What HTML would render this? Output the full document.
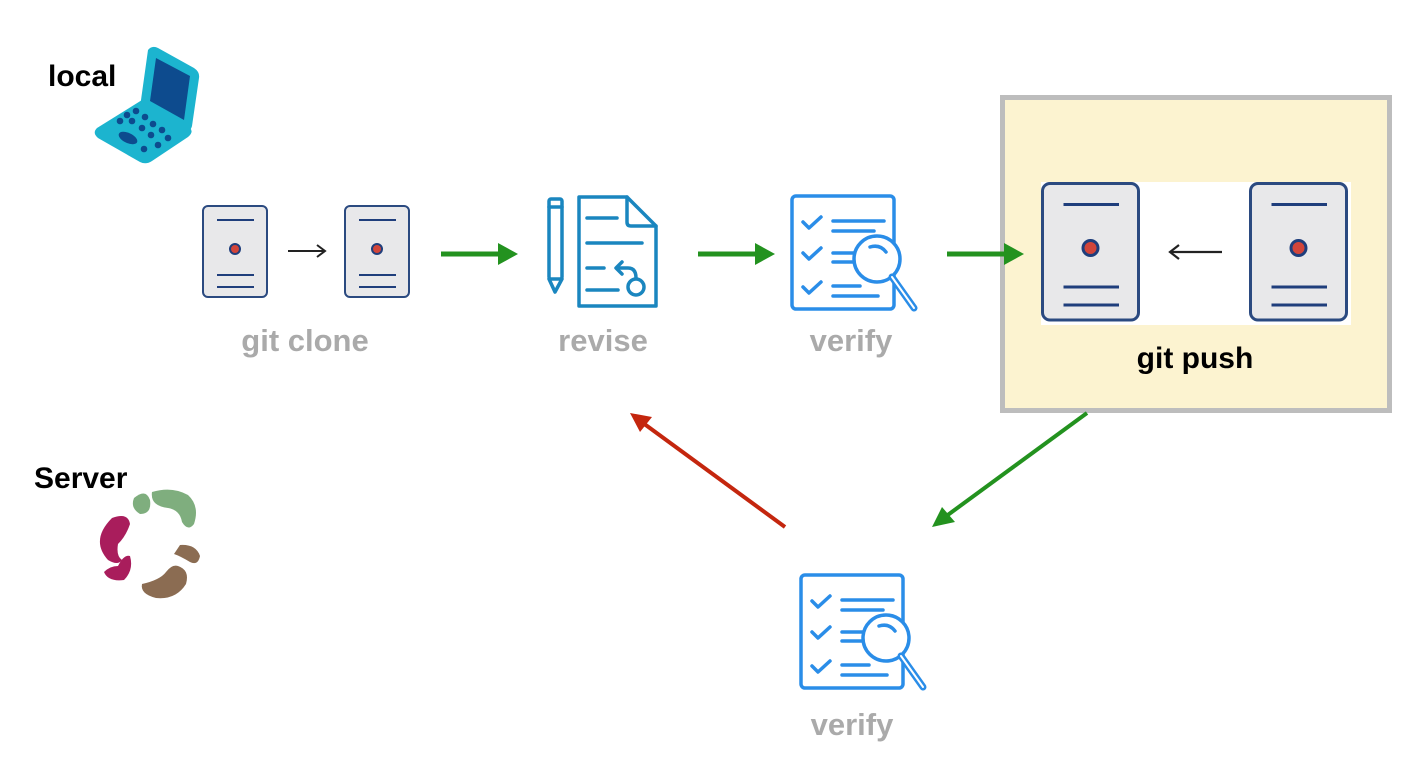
<!DOCTYPE html>
<html><head><meta charset="utf-8"><style>
html,body{margin:0;padding:0;background:#fff;}
svg{display:block;font-family:"Liberation Sans",sans-serif;}
.lbl{font-weight:bold;font-size:31px;fill:#aaaaaa;text-anchor:middle;}
</style></head><body>
<svg width="1414" height="772" viewBox="0 0 1414 772" xmlns="http://www.w3.org/2000/svg">
<defs>
<g id="srv">
<rect x="1" y="1" width="64" height="91" rx="5" fill="#e8e8ea" stroke="#2b4a80" stroke-width="2"/>
<line x1="15" y1="15" x2="52" y2="15" stroke="#1f3e7c" stroke-width="2"/>
<circle cx="33" cy="44" r="5" fill="#d2453a" stroke="#1f3e7c" stroke-width="2"/>
<line x1="15" y1="70" x2="52" y2="70" stroke="#1f3e7c" stroke-width="2"/>
<line x1="15" y1="82" x2="52" y2="82" stroke="#1f3e7c" stroke-width="2"/>
</g>
<g id="ver" fill="none" stroke="#2a8de8" stroke-width="3.5" stroke-linecap="round" stroke-linejoin="round">
<rect x="2" y="1" width="102" height="113" rx="4"/>
<polyline points="13,27 19,33 31,22"/>
<polyline points="13,58 19,64 31,53"/>
<polyline points="13,92 19,98 31,87"/>
<line x1="43" y1="26" x2="94" y2="26"/><line x1="43" y1="36" x2="84" y2="36"/>
<line x1="43" y1="58" x2="66" y2="58"/><line x1="43" y1="67" x2="64" y2="67"/>
<line x1="43" y1="91" x2="70" y2="91"/><line x1="43" y1="101" x2="88" y2="101"/>
<circle cx="87" cy="64" r="23" fill="#fff"/>
<path d="M80 52 Q90 49 96 57"/>
<line x1="102" y1="82" x2="124" y2="113" stroke-width="7"/>
<line x1="102" y1="82" x2="124" y2="113" stroke="#fff" stroke-width="2"/>
</g>
</defs>

<!-- local -->
<text x="48" y="86" font-size="30" font-weight="bold" fill="#000">local</text>
<g>
<path d="M97 128 L142 100 L190 128 Q194 132 188 137 L152 161 Q146 165 140 162 L98 138 Q92 133 97 128Z" fill="#1cb4cf"/>
<path d="M148 50 Q152 45 158 48 L194 68 Q200 72 199 78 L192 126 Q190 134 182 130 L146 110 Q140 106 141 100 Z" fill="#1cb4cf"/>
<path d="M156 58 L190 76 L184 120 L150 101 Z" fill="#0d4b8e"/>
<g fill="#0d4b8e"><circle cx="127" cy="115" r="3.3"/><circle cx="136" cy="111" r="3.3"/><circle cx="145" cy="117" r="3.3"/><circle cx="153" cy="124" r="3.3"/><circle cx="162" cy="130" r="3.3"/>
<circle cx="120" cy="121" r="3.3"/><circle cx="132" cy="121" r="3.3"/><circle cx="142" cy="128" r="3.3"/><circle cx="151" cy="135" r="3.3"/><circle cx="168" cy="138" r="3.3"/>
<ellipse cx="128" cy="138" rx="10" ry="5" transform="rotate(25 128 138)"/><circle cx="144" cy="149" r="3.3"/><circle cx="158" cy="145" r="3.3"/></g>
</g>

<!-- Server -->
<text x="34" y="488" font-size="30" font-weight="bold" fill="#000">Server</text>
<g>
<path d="M152 492 Q172 486 188 495 Q200 506 194 524 Q188 532 182 522 Q180 510 168 508 Q150 506 152 492Z" fill="#7fae7e"/>
<path d="M134 498 Q146 488 150 500 Q152 514 140 514 Q130 508 134 498Z" fill="#7fae7e"/>
<path d="M112 518 Q128 512 130 524 Q126 536 118 544 Q116 556 122 560 Q118 566 108 560 Q90 540 112 518Z" fill="#a91d5c"/>
<path d="M118 566 Q124 554 130 556 Q134 570 124 580 Q108 582 104 572 Q110 566 118 566Z" fill="#a91d5c"/>
<path d="M180 545 Q196 544 200 556 Q198 566 190 562 Q180 556 174 554Z" fill="#8b6c52"/>
<path d="M178 566 Q190 570 186 584 Q176 600 156 598 Q140 594 142 584 Q160 580 166 572 Q172 564 178 566Z" fill="#8b6c52"/>
</g>

<!-- git clone -->
<use href="#srv" x="202" y="205"/>
<use href="#srv" x="344" y="205"/>
<line x1="288" y1="251" x2="324" y2="251" stroke="#222" stroke-width="2"/>
<polyline points="317,245 325,251 317,257" fill="none" stroke="#222" stroke-width="2"/>
<text class="lbl" x="305" y="351">git clone</text>

<!-- git push box -->
<rect x="1002.5" y="97.5" width="387" height="313" fill="#fcf3d0" stroke="#bdbdbd" stroke-width="5"/>
<rect x="1041" y="182" width="310" height="143" fill="#fff"/>
<g transform="translate(1041,182) scale(1.5,1.5)"><use href="#srv"/></g>
<g transform="translate(1249,182) scale(1.5,1.5)"><use href="#srv"/></g>
<line x1="1170" y1="252" x2="1222" y2="252" stroke="#222" stroke-width="2.2"/>
<polyline points="1179,245 1170,252 1179,259" fill="none" stroke="#222" stroke-width="2.2"/>
<text x="1195" y="368" font-size="30" font-weight="bold" fill="#000" text-anchor="middle">git push</text>

<!-- arrows green -->
<g fill="#23921f" stroke="#23921f">
<line x1="441" y1="254" x2="500" y2="254" stroke-width="5"/><polygon points="498,243 518,254 498,265" stroke="none"/>
<line x1="698" y1="254" x2="757" y2="254" stroke-width="5"/><polygon points="755,243 775,254 755,265" stroke="none"/>
<line x1="947" y1="254" x2="1006" y2="254" stroke-width="5"/><polygon points="1004,243 1024,254 1004,265" stroke="none"/>
<line x1="1087" y1="413" x2="945" y2="517" stroke-width="4"/><polygon points="932,527 942,507 955,522" stroke="none"/>
</g>
<g fill="#c4260e" stroke="#c4260e">
<line x1="785" y1="527" x2="643" y2="423" stroke-width="4"/><polygon points="630,413 652,417 640,432" stroke="none"/>
</g>

<!-- revise -->
<g fill="none" stroke="#1a86bf" stroke-width="3.5" stroke-linejoin="round" stroke-linecap="round">
<rect x="549" y="199" width="13" height="80" rx="2"/>
<line x1="549" y1="207" x2="562" y2="207"/>
<polyline points="549,279 555,292 562,279"/>
<path d="M579 197 H627 L656 226 V306 H579 Z"/>
<path d="M627 197 V222 Q627 226 631 226 H656"/>
<line x1="587" y1="218" x2="617" y2="218"/>
<line x1="587" y1="243" x2="642" y2="243"/>
<line x1="587" y1="268" x2="604" y2="268"/>
<line x1="587" y1="290" x2="618" y2="290"/>
<path d="M618 268 H628 Q636 268 636 278"/>
<polyline points="622,262 616,268 622,274"/>
<circle cx="636" cy="287" r="8"/>
</g>
<text class="lbl" x="603" y="351">revise</text>

<!-- verify top -->
<use href="#ver" x="790" y="195"/>
<text class="lbl" x="851" y="351">verify</text>

<!-- verify bottom -->
<use href="#ver" x="799" y="574"/>
<text class="lbl" x="852" y="735">verify</text>
</svg>
</body></html>
